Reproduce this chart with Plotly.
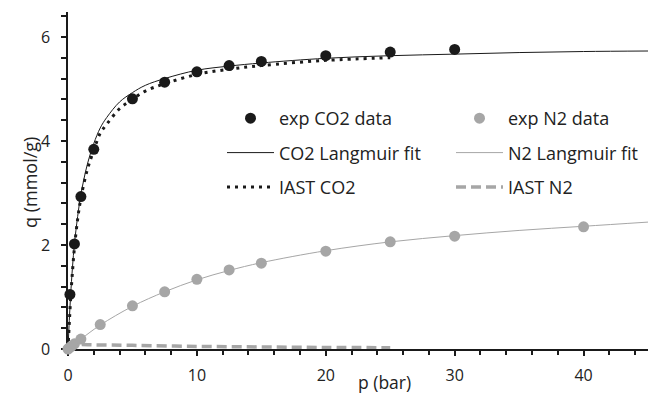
import plotly.graph_objects as go

# --- data ---
co2_p = [0.15, 0.5, 1, 2, 5, 7.5, 10, 12.5, 15, 20, 25, 30]
co2_q = [1.05, 2.02, 2.93, 3.84, 4.81, 5.13, 5.33, 5.45, 5.53, 5.64, 5.71, 5.76]

n2_p = [0, 0.1, 0.25, 0.5, 1, 2.5, 5, 7.5, 10, 12.5, 15, 20, 25, 30, 40]
n2_q = [0, 0.02, 0.05, 0.1, 0.19, 0.47, 0.83, 1.1, 1.34, 1.52, 1.65, 1.88, 2.06, 2.17, 2.35]

co2_fit_p = [0, 0.1, 0.2, 0.35, 0.5, 0.75, 1, 1.5, 2, 2.5, 3, 4, 5, 6, 7.5, 10, 12.5, 15, 20, 25, 30, 35, 40, 45]
co2_fit_q = [0, 0.55, 1.02, 1.58, 2.02, 2.55, 2.97, 3.55, 3.95, 4.25, 4.45, 4.75, 4.93, 5.07, 5.2, 5.36, 5.44, 5.5, 5.59, 5.64, 5.67, 5.7, 5.72, 5.73]

n2_fit_p = [0, 1, 2.5, 5, 7.5, 10, 12.5, 15, 20, 25, 30, 35, 40, 45]
n2_fit_q = [0, 0.19, 0.46, 0.82, 1.1, 1.33, 1.51, 1.66, 1.89, 2.06, 2.18, 2.28, 2.36, 2.44]

iast_co2_p = [0, 0.1, 0.2, 0.35, 0.5, 0.75, 1, 1.5, 2, 2.5, 3, 4, 5, 6, 7.5, 10, 12.5, 15, 20, 25]
iast_co2_q = [0, 0.5, 0.95, 1.5, 1.95, 2.5, 2.9, 3.45, 3.82, 4.15, 4.32, 4.62, 4.8, 4.96, 5.1, 5.28, 5.38, 5.45, 5.55, 5.6]

iast_n2_p = [0, 0.5, 1, 2, 5, 10, 15, 20, 25]
iast_n2_q = [0, 0.08, 0.085, 0.08, 0.07, 0.05, 0.04, 0.03, 0.025]

FONT = "Open Sans"
TXT = "#222222"
BLACK = "#1a1a1a"
GRAY = "#a6a6a6"

fig = go.Figure()

fig.add_trace(go.Scatter(x=co2_fit_p, y=co2_fit_q, mode="lines", name="CO2 Langmuir fit",
                         line=dict(color=BLACK, width=1, shape="spline"), legend="legend",
                         legendrank=2, legendgroup="a2"))
fig.add_trace(go.Scatter(x=iast_co2_p, y=iast_co2_q, mode="lines", name="IAST CO2",
                         line=dict(color=BLACK, width=3, dash="3px,5px", shape="spline"),
                         legend="legend", legendrank=3, legendgroup="a3"))
fig.add_trace(go.Scatter(x=n2_fit_p, y=n2_fit_q, mode="lines", name="N2 Langmuir fit",
                         line=dict(color=GRAY, width=1, shape="spline"), legend="legend2",
                         legendrank=2, legendgroup="b2"))
fig.add_trace(go.Scatter(x=iast_n2_p, y=iast_n2_q, mode="lines", name="IAST N2",
                         line=dict(color=GRAY, width=3.5, dash="10px,5px", shape="spline"),
                         legend="legend2", legendrank=3, legendgroup="b3"))
fig.add_trace(go.Scatter(x=n2_p, y=n2_q, mode="markers", name="exp N2 data",
                         marker=dict(color=GRAY, size=11), cliponaxis=False,
                         legend="legend2", legendrank=1, legendgroup="b1"))
fig.add_trace(go.Scatter(x=co2_p, y=co2_q, mode="markers", name="exp CO2 data",
                         marker=dict(color=BLACK, size=11), cliponaxis=False,
                         legend="legend", legendrank=1, legendgroup="a1"))

axis_common = dict(showline=True, linecolor=BLACK, linewidth=1.5, ticks="outside",
                   tickcolor=BLACK, tickwidth=1.5, ticklen=5, showgrid=False, zeroline=False,
                   tickfont=dict(family=FONT, size=16, color=TXT), layer="below traces")

fig.update_xaxes(range=[0, 45], dtick=10, tick0=0, ticklabelstandoff=6,
                 minor=dict(dtick=2, ticks="outside", ticklen=4, tickcolor=BLACK, tickwidth=1.5),
                 **axis_common)
fig.update_yaxes(range=[0, 6.48], dtick=2, tick0=0, ticklabelstandoff=8,
                 minor=dict(dtick=0.4, ticks="outside", ticklen=5, tickcolor=BLACK, tickwidth=1.5),
                 **axis_common)

leg_common = dict(font=dict(family=FONT, size=18, color=TXT), bgcolor="rgba(0,0,0,0)",
                  orientation="v", tracegroupgap=8, itemwidth=47, traceorder="grouped",
                  xanchor="left", yanchor="top")
fig.update_layout(
    width=648, height=395, autosize=False,
    margin=dict(l=68, r=0, t=12, b=46),
    paper_bgcolor="white", plot_bgcolor="white",
    legend=dict(x=(222 - 68) / 580, y=(349 - 100) / 337, **leg_common),
    legend2=dict(x=(451 - 68) / 580, y=(349 - 100) / 337, **leg_common),
    annotations=[
        dict(text="p (bar)", xref="paper", yref="paper", x=(384 - 68) / 580, y=(349 - 382) / 337,
             xanchor="center", yanchor="middle", showarrow=False,
             font=dict(family=FONT, size=17.5, color=TXT)),
        dict(text="q (mmol/g)", xref="paper", yref="paper", x=(30 - 68) / 580, y=(349 - 183) / 337,
             xanchor="center", yanchor="middle", showarrow=False, textangle=-90,
             font=dict(family=FONT, size=18, color=TXT)),
    ],
)

fig.write_html("out.html")
